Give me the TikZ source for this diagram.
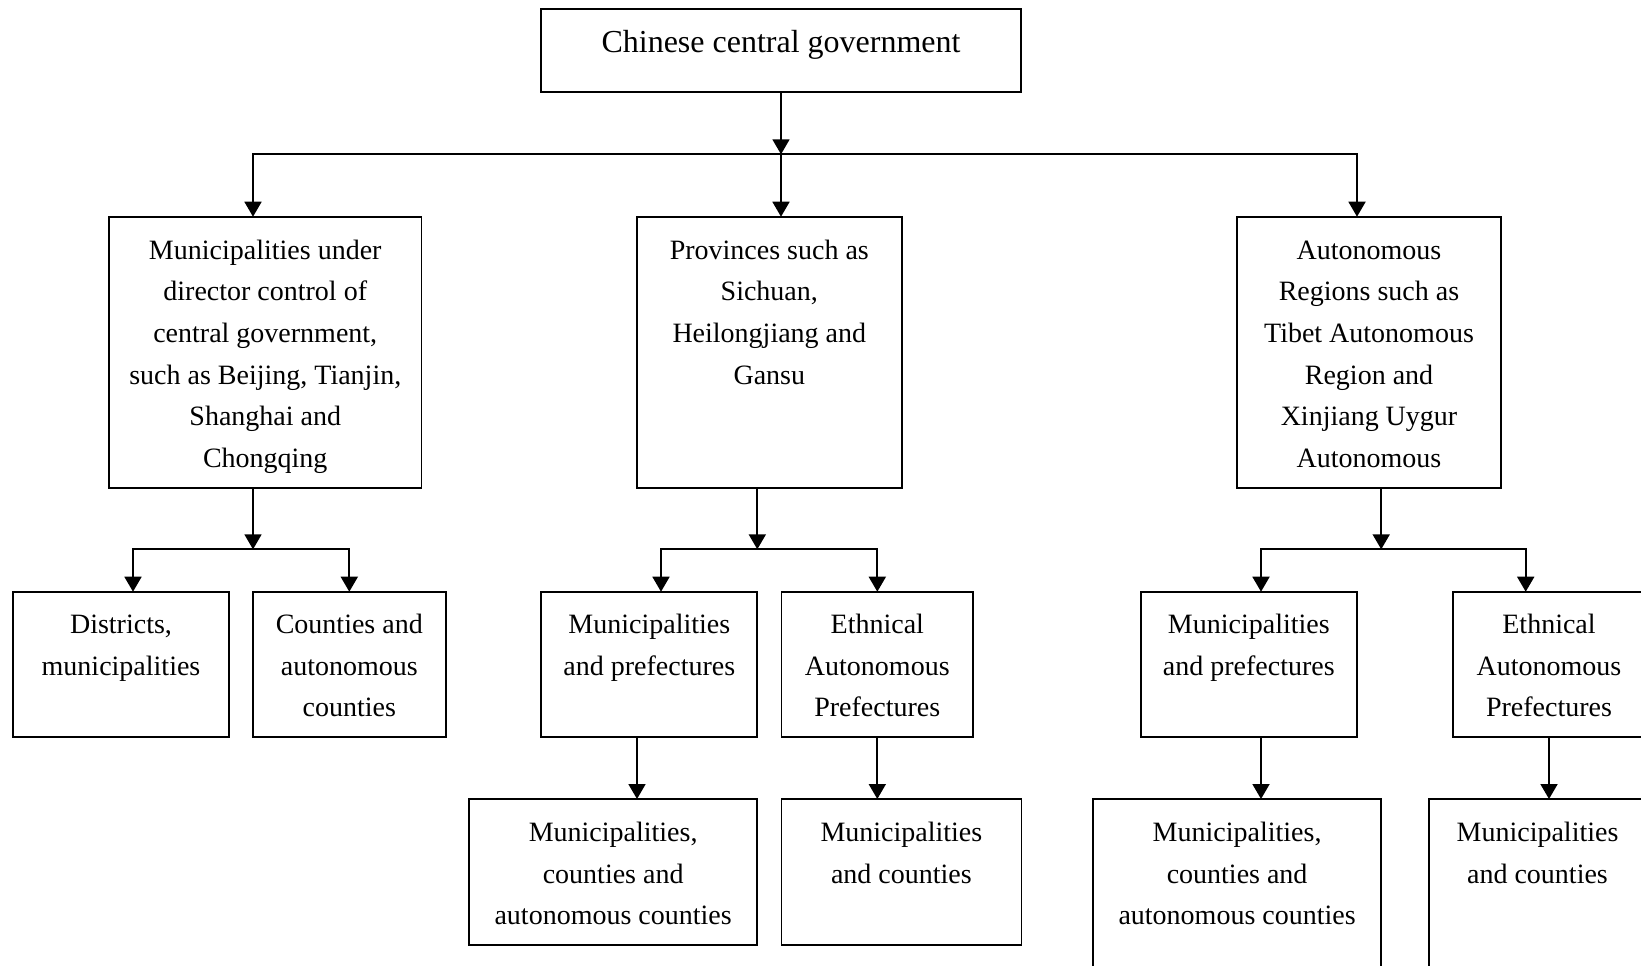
\documentclass[tikz,border=0pt]{standalone}
\usepackage{fontspec}
\setmainfont{Liberation Serif}
\usetikzlibrary{arrows.meta,calc}
\begin{document}
\begin{tikzpicture}[x=0.5pt,y=-0.5pt,
  box/.style={draw, line width=0.9pt, inner sep=0pt, outer sep=0pt, anchor=north west},
  txt/.style={font=\fontsize{14}{20.8}\selectfont, text width=150pt, align=flush center, inner sep=0pt, outer sep=0pt, anchor=base},
  ttl/.style={font=\fontsize{16}{20}\selectfont, inner sep=0pt, outer sep=0pt, anchor=base},
  arr/.style={line width=0.9pt, -{Triangle[width=8.5pt,length=7.5pt]}}]
\useasboundingbox (0,0) rectangle (1641,965);
\clip (0,0) rectangle (1641,965);

% boxes
\node[box, minimum width=240pt, minimum height=41.5pt] (T) at (541,9.3) {};
\node[box, minimum width=156.25pt, minimum height=135.5pt] (A) at (109,216.7) {};
\node[box, minimum width=132.3pt, minimum height=135.5pt] (B) at (637,216.7) {};
\node[box, minimum width=132pt, minimum height=135.5pt] (C) at (1237,216.7) {};
\node[box, minimum width=108pt, minimum height=72.8pt] (D) at (13,591.7) {};
\node[box, minimum width=96.3pt, minimum height=72.8pt] (E) at (253,591.7) {};
\node[box, minimum width=108pt, minimum height=72.8pt] (F) at (541.3,591.7) {};
\node[box, minimum width=95.9pt, minimum height=72.8pt] (G) at (781.4,591.7) {};
\node[box, minimum width=144.15pt, minimum height=73pt] (H) at (469,799) {};
\node[box, minimum width=120pt, minimum height=73pt] (I) at (781.4,799) {};
\node[box, minimum width=108.2pt, minimum height=72.8pt] (J) at (1140.6,591.7) {};
\node[box, minimum width=96pt, minimum height=72.8pt] (K) at (1453,591.7) {};
\node[box, minimum width=144.1pt, minimum height=110pt] (L) at (1093,799) {};
\node[box, minimum width=108.5pt, minimum height=110pt] (M) at (1429,799) {};

% texts
\node[ttl] (Tt) at (781,52) {Chinese central government};
\node[txt] (At) at ($(A.north)+(0,42.6)$) {Municipalities under\\director control of\\central government,\\such as Beijing, Tianjin,\\Shanghai and\\Chongqing};
\node[txt] (Bt) at ($(B.north)+(0,42.6)$) {Provinces such as\\Sichuan,\\Heilongjiang and\\Gansu};
\node[txt] (Ct) at ($(C.north)+(0,42.6)$) {Autonomous\\Regions such as\\Tibet Autonomous\\Region and\\Xinjiang Uygur\\Autonomous};
\node[txt] (Dt) at ($(D.north)+(0,42)$) {Districts,\\municipalities};
\node[txt] (Et) at ($(E.north)+(0,42)$) {Counties and\\autonomous\\counties};
\node[txt] (Ft) at ($(F.north)+(0,42)$) {Municipalities\\and prefectures};
\node[txt] (Gt) at ($(G.north)+(0,42)$) {Ethnical\\Autonomous\\Prefectures};
\node[txt] (Ht) at ($(H.north)+(0,42.5)$) {Municipalities,\\counties and\\autonomous counties};
\node[txt] (It) at ($(I.north)+(0,42.5)$) {Municipalities\\and counties};
\node[txt] (Jt) at ($(J.north)+(0,42)$) {Municipalities\\and prefectures};
\node[txt] (Kt) at ($(K.north)+(0,42)$) {Ethnical\\Autonomous\\Prefectures};
\node[txt] (Lt) at ($(L.north)+(0,42.5)$) {Municipalities,\\counties and\\autonomous counties};
\node[txt] (Mt) at ($(M.north)+(0,42.5)$) {Municipalities\\and counties};

% junction points
\coordinate (b0) at (781,154.3);
\coordinate (b0l) at (253,154.3);
\coordinate (b0r) at (1357,154.3);
\coordinate (b1) at (253,549.3);
\coordinate (b1l) at (133,549.3);
\coordinate (b1r) at (349.3,549.3);
\coordinate (b2) at (757.3,549.3);
\coordinate (b2l) at (661,549.3);
\coordinate (b2r) at (877.3,549.3);
\coordinate (b3) at (1381.2,549.3);
\coordinate (b3l) at (1261,549.3);
\coordinate (b3r) at (1525.7,549.3);
\coordinate (fh) at (637,0);

% connectors
\draw[arr] (T.south) -- (b0);
\draw[arr] (b0) -| (b0l |- A.north);
\draw[arr] (b0) -- (b0 |- B.north);
\draw[arr] (b0) -| (b0r |- C.north);

\draw[arr] (b1 |- A.south) -- (b1);
\draw[arr] (b1) -| (b1l |- D.north);
\draw[arr] (b1) -| (b1r |- E.north);

\draw[arr] (b2 |- B.south) -- (b2);
\draw[arr] (b2) -| (b2l |- F.north);
\draw[arr] (b2) -| (b2r |- G.north);

\draw[arr] (b3 |- C.south) -- (b3);
\draw[arr] (b3) -| (b3l |- J.north);
\draw[arr] (b3) -| (b3r |- K.north);

\draw[arr] (fh |- F.south) -- (fh |- H.north);
\draw[arr] (G.south) -- (G.south |- I.north);
\draw[arr] (b3l |- J.south) -- (b3l |- L.north);
\draw[arr] (K.south) -- (K.south |- M.north);
\end{tikzpicture}
\end{document}
